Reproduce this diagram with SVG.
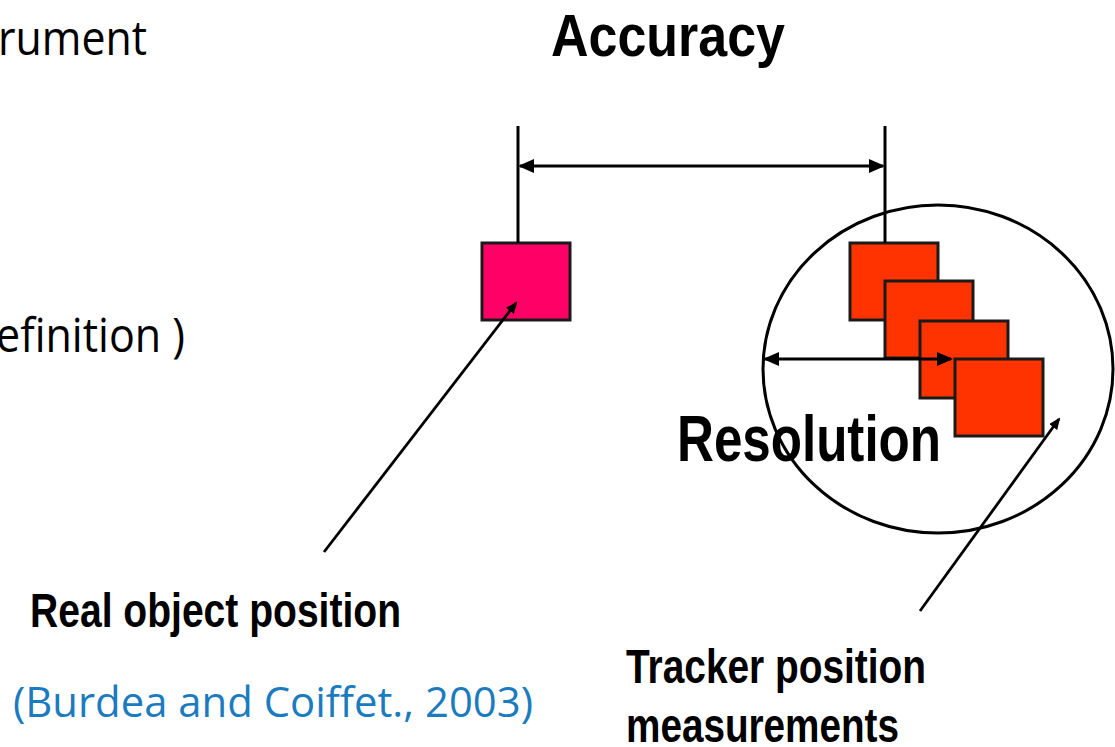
<svg xmlns="http://www.w3.org/2000/svg" width="1115" height="747" viewBox="0 0 1115 747">
  <style>
    .lbl { font-family: "Liberation Sans", Arial, sans-serif; font-weight: bold; fill: #000; }
    .body { font-family: "Open Sans", "Noto Sans", sans-serif; fill: #000; }
    .cite { font-family: "Open Sans", "Noto Sans", sans-serif; fill: #1B7BBF; }
    .box { stroke: #1a1a1a; stroke-width: 3; }
    .pink { fill: #FF0066; }
    .red { fill: #FF3300; }
    .ln { stroke: #000; stroke-width: 3; fill: none; }
    .ptr { stroke: #000; stroke-width: 2.8; fill: none; }
  </style>
  <defs>
    <marker id="arrowBig" markerUnits="userSpaceOnUse" markerWidth="17" markerHeight="14" refX="14" refY="7" orient="auto-start-reverse">
      <path d="M0,0 L16,7 L0,14 z" fill="#000"/>
    </marker>
    <marker id="arrowSmall" markerUnits="userSpaceOnUse" markerWidth="13" markerHeight="10" refX="10" refY="5" orient="auto">
      <path d="M0,0 L12,5 L0,10 z" fill="#000"/>
    </marker>
  </defs>
  <rect width="1115" height="747" fill="#fff"/>

  <g id="background-text">
    <text class="body" x="-2" y="55" font-size="47" textLength="149" lengthAdjust="spacingAndGlyphs">rument</text>
    <text class="body" x="-4" y="352" font-size="47" textLength="189" lengthAdjust="spacingAndGlyphs">efinition )</text>
    <text class="cite" x="13" y="717" font-size="42" textLength="520" lengthAdjust="spacingAndGlyphs">(Burdea and Coiffet., 2003)</text>
  </g>

  <g id="label-accuracy">
    <text class="lbl" x="551" y="56" font-size="60" textLength="234" lengthAdjust="spacingAndGlyphs">Accuracy</text>
  </g>

  <g id="node-real-object">
    <rect class="box pink" x="482" y="243" width="88" height="77"/>
  </g>

  <g id="node-tracker-measurements">
    <rect class="box red" x="850" y="243" width="88" height="77"/>
    <rect class="box red" x="885" y="281" width="88" height="77"/>
    <rect class="box red" x="920" y="321" width="88" height="77"/>
    <rect class="box red" x="955" y="359" width="88" height="77"/>
  </g>

  <g id="label-resolution">
    <text class="lbl" x="677" y="461" font-size="64" textLength="264" lengthAdjust="spacingAndGlyphs">Resolution</text>
  </g>

  <g id="node-resolution-circle">
    <ellipse class="ln" cx="938" cy="369" rx="175" ry="164"/>
  </g>

  <g id="connectors">
    <line class="ln" x1="518" y1="126" x2="518" y2="243"/>
    <line class="ln" x1="885" y1="126" x2="885" y2="243"/>
    <line class="ln" x1="520" y1="166" x2="883" y2="166" marker-start="url(#arrowBig)" marker-end="url(#arrowBig)"/>
    <line class="ln" x1="765" y1="359" x2="951" y2="359" marker-start="url(#arrowBig)" marker-end="url(#arrowBig)"/>
    <line class="ptr" x1="324" y1="552" x2="516" y2="303" marker-end="url(#arrowSmall)"/>
    <line class="ptr" x1="920" y1="611" x2="1059" y2="419" marker-end="url(#arrowSmall)"/>
  </g>

  <g id="label-real-object">
    <text class="lbl" x="30" y="627" font-size="48" textLength="371" lengthAdjust="spacingAndGlyphs">Real object position</text>
  </g>

  <g id="label-tracker">
    <text class="lbl" x="626" y="683" font-size="48" textLength="300" lengthAdjust="spacingAndGlyphs">Tracker position</text>
    <text class="lbl" x="626" y="742" font-size="48" textLength="273" lengthAdjust="spacingAndGlyphs">measurements</text>
  </g>
</svg>
